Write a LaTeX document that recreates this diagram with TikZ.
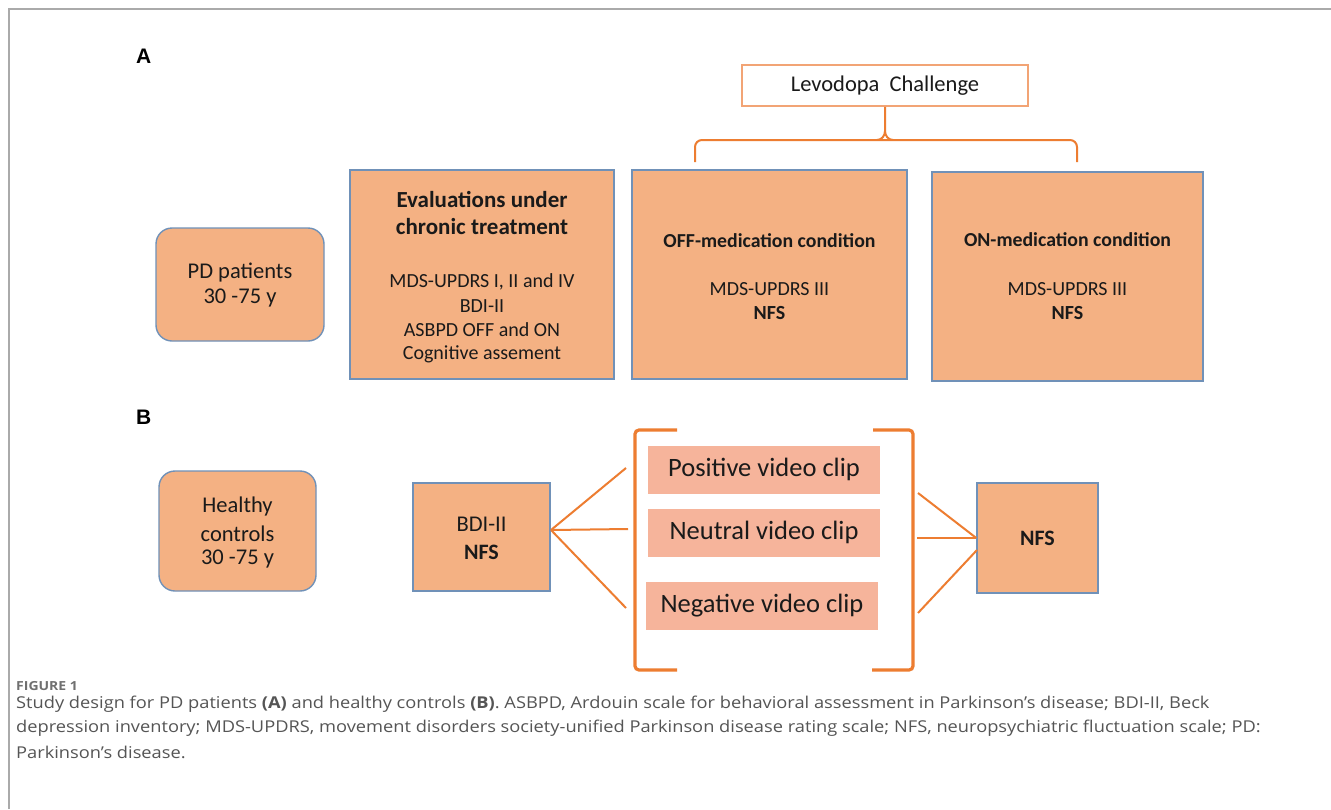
\documentclass[tikz,border=0pt]{standalone}
\usepackage{fontspec}
\usetikzlibrary{calc}
\setmainfont{Carlito}
\newfontfamily\labfont{Liberation Sans}
\newfontfamily\capfont[FakeStretch=1.12]{Open Sans}
\definecolor{salmon}{HTML}{F4B183}
\definecolor{boxline}{HTML}{7091B8}
\definecolor{orangeline}{HTML}{ED7D31}
\definecolor{levline}{HTML}{F2A475}
\definecolor{clipfill}{HTML}{F6B49B}
\definecolor{captxt}{HTML}{555555}
\definecolor{figtxt}{HTML}{707070}
\definecolor{framegray}{HTML}{AAAAAA}
\definecolor{txt}{HTML}{1A1A1A}
\begin{document}
\begin{tikzpicture}[x=1pt,y=-1pt,
  pbox/.style={draw=boxline,line width=1.4pt,fill=salmon,inner sep=0pt},
  rbox/.style={pbox,rounded corners=16pt},
  clipbox/.style={fill=clipfill,inner sep=0pt,minimum width=232pt,minimum height=48pt,
    font=\fontsize{26.5}{30}\selectfont,text=txt},
  t20/.style={font=\fontsize{20}{24}\selectfont,text=txt,inner sep=0pt},
  t20b/.style={font=\fontsize{20}{24}\selectfont\bfseries,text=txt,inner sep=0pt},
  t22/.style={font=\fontsize{22.5}{26}\selectfont,text=txt,inner sep=0pt},
  t22b/.style={font=\fontsize{22}{26}\selectfont\bfseries,text=txt,inner sep=0pt},
  oline/.style={draw=orangeline,line width=2pt},
  bracket/.style={draw=orangeline,line width=3.2pt,rounded corners=4pt},
  lab/.style={font=\labfont\fontsize{21}{24}\selectfont\bfseries,inner sep=0pt,anchor=west},
  captext/.style={font=\capfont\fontsize{16.3}{19}\selectfont,text=captxt,inner sep=0pt,anchor=west}
]
\useasboundingbox (0,0) rectangle (1331,809);
\fill[white] (0,0) rectangle (1331,809);
% frame
\draw[framegray,line width=1.6pt] (9,809) -- (9,9) -- (1331,9);

% labels
\node[lab] (labA) at (136,56) {A};
\node[lab] (labB) at (136,417) {B};

% Panel A boxes
\node[rbox,minimum width=168pt,minimum height=113pt] (pd) at (240,284.5) {};
\node[t22] (pd1) at (240,273) {PD patients};
\node[t22] (pd2) at (240,298) {30 -75 y};

\node[pbox,minimum width=264pt,minimum height=209pt] (eval) at (482,274.5) {};
\node[t20b,font=\fontsize{23}{26}\selectfont\bfseries] (ev1) at (482,199) {Evaluations under};
\node[t20b,font=\fontsize{23}{26}\selectfont\bfseries] (ev2) at (482,227) {chronic treatment};
\node[t20] (ev3) at (482,282) {MDS-UPDRS I, II and IV};
\node[t20] (ev4) at (482,306) {BDI-II};
\node[t20] (ev5) at (482,330) {ASBPD OFF and ON};
\node[t20] (ev6) at (482,354) {Cognitive assement};

\node[pbox,minimum width=275pt,minimum height=209pt] (off) at (769.5,274.5) {};
\node[t20b,font=\fontsize{19.8}{24}\selectfont\bfseries] (off1) at (769.5,241) {OFF-medication condition};
\node[t20] (off2) at (769.5,289) {MDS-UPDRS III};
\node[t20b] (off3) at (769.5,313) {NFS};

\node[pbox,minimum width=271pt,minimum height=209pt] (on) at (1067.5,276.5) {};
\node[t20b,font=\fontsize{19.8}{24}\selectfont\bfseries] (on1) at (1067.5,240) {ON-medication condition};
\node[t20] (on2) at (1067.5,289) {MDS-UPDRS III};
\node[t20b] (on3) at (1067.5,313) {NFS};

% Levodopa challenge
\node[draw=levline,line width=1.6pt,fill=white,minimum width=286pt,minimum height=41pt,inner sep=0pt,
  font=\fontsize{22.5}{26}\selectfont,text=txt] (lev) at (885,85.5) {Levodopa\ \ Challenge};
\coordinate (brL) at (695,162);
\coordinate (brR) at (1077,162);
\coordinate (brM) at (885,140);
\draw[oline,rounded corners=7pt] (brL) -- (695,140) -- (1077,140) -- (brR);
\draw[oline] (lev.south) -- (885,131) to[out=-90,in=0] (877,140);
\draw[oline] (885,131) to[out=-90,in=180] (893,140);

% Panel B
\node[rbox,minimum width=157pt,minimum height=120pt] (hc) at (237.5,531) {};
\node[t22] (hc1) at (237.5,506) {Healthy};
\node[t22] (hc2) at (237.5,534) {controls};
\node[t22] (hc3) at (237.5,559) {30 -75 y};

\node[pbox,minimum width=137pt,minimum height=108pt] (bdi) at (481.5,537) {};
\node[t22] (bdi1) at (481.5,524) {BDI-II};
\node[t22b] (bdi2) at (481.5,552) {NFS};

\node[clipbox] (pos) at (764,469.5) {Positive video clip};
\node[clipbox] (neu) at (764,532.5) {Neutral video clip};
\node[clipbox] (neg) at (762,605.5) {Negative video clip};

\draw[bracket] (677,430) -- (635,430) -- (635,670) -- (677,670);
\draw[bracket] (873,430) -- (913,430) -- (913,670) -- (872,670);

\node[pbox,minimum width=121pt,minimum height=110pt,font=\fontsize{22}{26}\selectfont\bfseries,text=txt] (nfs) at (1037.5,538) {NFS};

\coordinate (fl1) at (626,468);
\coordinate (fl2) at (628,529);
\coordinate (fl3) at (626,608);
\coordinate (bdiout) at (551,530);
\draw[oline] (bdiout) -- (fl1);
\draw[oline] (bdiout) -- (fl2);
\draw[oline] (bdiout) -- (fl3);

\coordinate (fr1) at (918,493);
\coordinate (fr2) at (917,538);
\coordinate (fr3) at (918,613);
\coordinate (nfsin) at (977,550);
\draw[oline] (fr1) -- (nfs.west);
\draw[oline] (fr2) -- (nfs.west);
\draw[oline] (fr3) -- (nfsin);

% caption
\node[captext,text=figtxt,font=\capfont\fontsize{12.5}{14}\selectfont\bfseries] (fig) at (16,686) {FIGURE 1};
\node[captext] (c1) at (16,704) {Study design for PD patients \textbf{(A)} and healthy controls \textbf{(B)}. ASBPD, Ardouin scale for behavioral assessment in Parkinson’s disease; BDI-II, Beck};
\node[captext] (c2) at (16,728) {depression inventory; MDS-UPDRS, movement disorders society-unified Parkinson disease rating scale; NFS, neuropsychiatric fluctuation scale; PD:};
\node[captext] (c3) at (16,752) {Parkinson’s disease.};
\end{tikzpicture}
\end{document}
